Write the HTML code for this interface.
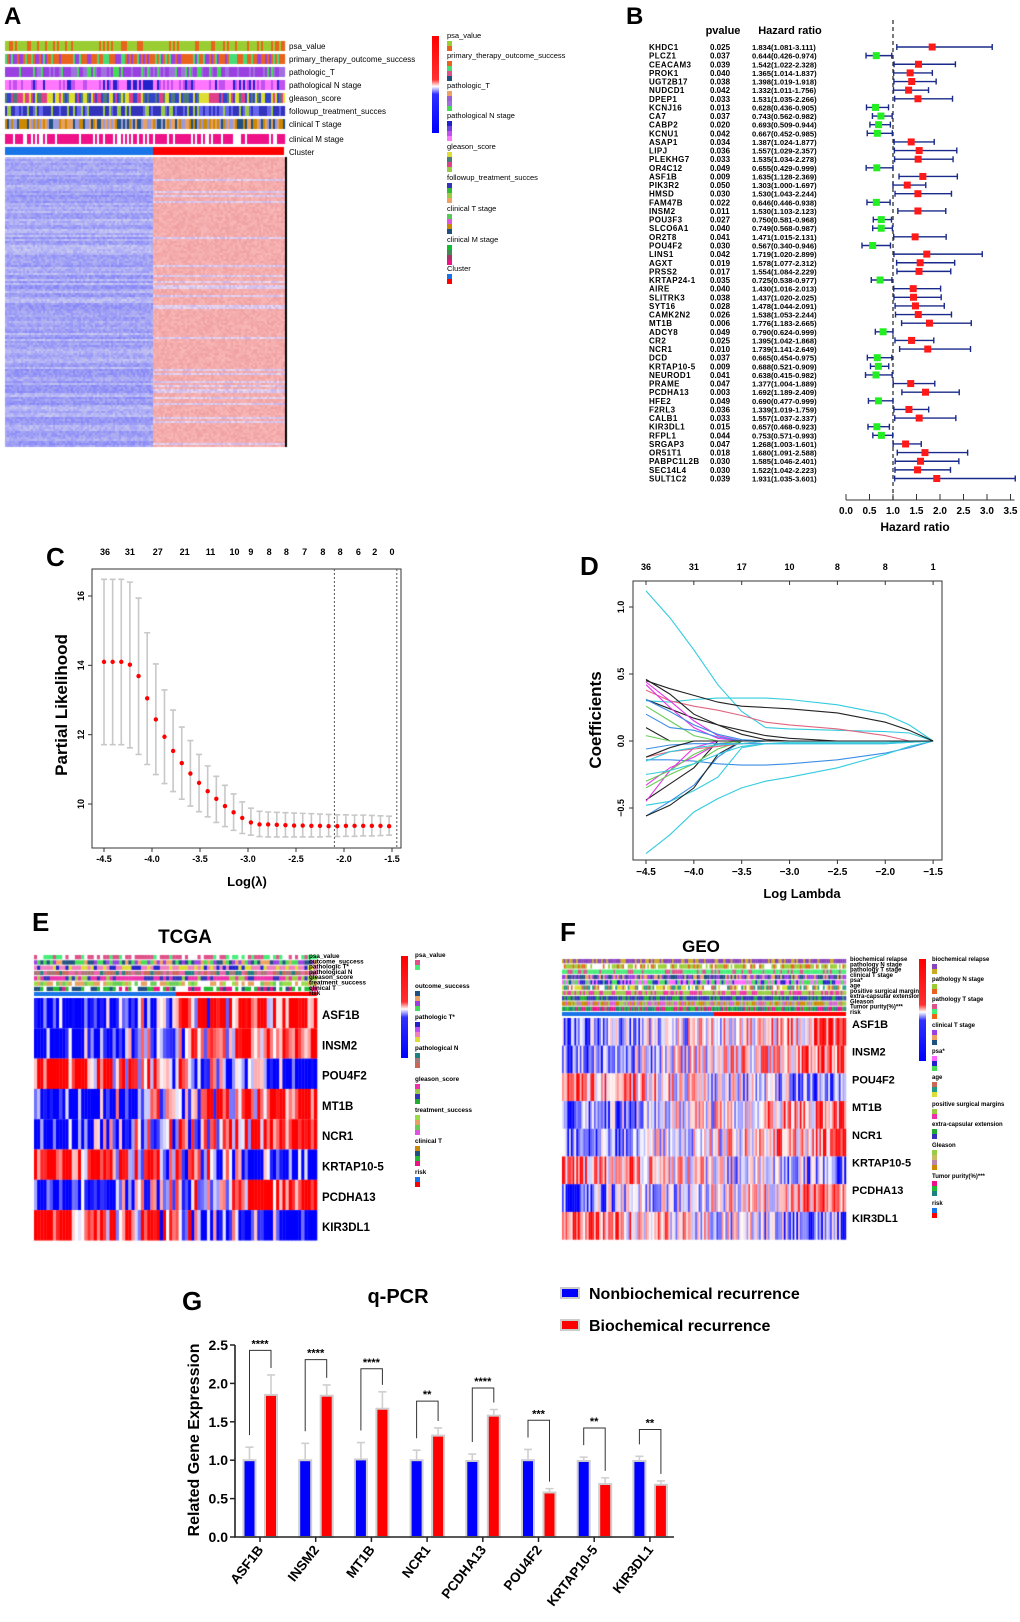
<!DOCTYPE html>
<html><head><meta charset="utf-8">
<style>
body{margin:0;width:1020px;height:1622px;position:relative;overflow:hidden;background:#fff;font-family:"Liberation Sans",Arial,sans-serif}
svg{position:absolute;left:0;top:0}
canvas{position:absolute}
text{font-family:"Liberation Sans",Arial,sans-serif}
.b{font-weight:bold}
</style></head>
<body>
<canvas id="cvA" width="290" height="410" style="left:0;top:40px"></canvas>
<canvas id="cvE" width="290" height="290" style="left:30px;top:952px"></canvas>
<canvas id="cvF" width="290" height="290" style="left:560px;top:955px"></canvas>
<svg id="s" width="1020" height="1622" xmlns="http://www.w3.org/2000/svg">
  <text x="4" y="24" class="b" font-size="24">A</text>
  <text x="626" y="24" class="b" font-size="24">B</text>
  <text x="46" y="566" class="b" font-size="26">C</text>
  <text x="580" y="575" class="b" font-size="26">D</text>
  <text x="32" y="931" class="b" font-size="26">E</text>
  <text x="560" y="941" class="b" font-size="26">F</text>
  <text x="182" y="1310" class="b" font-size="26">G</text>

  <text x="723" y="34" class="b" font-size="11" text-anchor="middle">pvalue</text>
  <text x="790" y="34" class="b" font-size="11" text-anchor="middle">Hazard ratio</text>
  <text x="915" y="531" class="b" font-size="12" text-anchor="middle">Hazard ratio</text>

  <text transform="translate(67,705) rotate(-90)" class="b" font-size="17" text-anchor="middle">Partial Likelihood</text>
  <text x="247" y="886" class="b" font-size="13" text-anchor="middle">Log(λ)</text>
  <text transform="translate(601,720) rotate(-90)" class="b" font-size="17" text-anchor="middle">Coefficients</text>
  <text x="802" y="898" class="b" font-size="13" text-anchor="middle">Log Lambda</text>

  <text x="185" y="943" class="b" font-size="19" text-anchor="middle">TCGA</text>
  <text x="701" y="952" class="b" font-size="17" text-anchor="middle">GEO</text>

  <text x="398" y="1303" class="b" font-size="20" text-anchor="middle">q-PCR</text>
  <rect x="561" y="1288" width="18" height="10" fill="#0000ff" stroke="#ccc" stroke-width="2"/>
  <text x="589" y="1299" class="b" font-size="16">Nonbiochemical recurrence</text>
  <rect x="561" y="1320" width="18" height="10" fill="#ff0000" stroke="#ccc" stroke-width="2"/>
  <text x="589" y="1331" class="b" font-size="16">Biochemical recurrence</text>
  <text transform="translate(199,1440) rotate(-90)" class="b" font-size="16" text-anchor="middle">Related Gene Expression</text>
</svg>
<script>
// ---------- Forest plot data (panel B) ----------
const genes=["KHDC1","PLCZ1","CEACAM3","PROK1","UGT2B17","NUDCD1","DPEP1","KCNJ16","CA7","CABP2","KCNU1","ASAP1","LIPJ","PLEKHG7","OR4C12","ASF1B","PIK3R2","HMSD","FAM47B","INSM2","POU3F3","SLCO6A1","OR2T8","POU4F2","LINS1","AGXT","PRSS2","KRTAP24-1","AIRE","SLITRK3","SYT16","CAMK2N2","MT1B","ADCY8","CR2","NCR1","DCD","KRTAP10-5","NEUROD1","PRAME","PCDHA13","HFE2","F2RL3","CALB1","KIR3DL1","RFPL1","SRGAP3","OR51T1","PABPC1L2B","SEC14L4","SULT1C2"];
const pvals=[0.025,0.037,0.039,0.040,0.038,0.042,0.033,0.013,0.037,0.020,0.042,0.034,0.036,0.033,0.049,0.009,0.050,0.030,0.022,0.011,0.027,0.040,0.041,0.030,0.042,0.019,0.017,0.035,0.040,0.038,0.028,0.026,0.006,0.049,0.025,0.010,0.037,0.009,0.041,0.047,0.003,0.049,0.036,0.033,0.015,0.044,0.047,0.018,0.030,0.030,0.039];
const hr=[1.834,0.644,1.542,1.365,1.398,1.332,1.531,0.628,0.743,0.693,0.667,1.387,1.557,1.535,0.655,1.635,1.303,1.530,0.646,1.530,0.750,0.749,1.471,0.567,1.719,1.578,1.554,0.725,1.430,1.437,1.478,1.538,1.776,0.790,1.395,1.739,0.665,0.688,0.638,1.377,1.692,0.690,1.339,1.557,0.657,0.753,1.268,1.680,1.585,1.522,1.931];
const hrLo=[1.081,0.426,1.022,1.014,1.019,1.011,1.035,0.436,0.562,0.509,0.452,1.024,1.029,1.034,0.429,1.128,1.000,1.043,0.446,1.103,0.581,0.568,1.015,0.340,1.020,1.077,1.084,0.538,1.016,1.020,1.044,1.053,1.183,0.624,1.042,1.141,0.454,0.521,0.415,1.004,1.189,0.477,1.019,1.037,0.468,0.571,1.003,1.091,1.046,1.042,1.035];
const hrHi=[3.111,0.974,2.328,1.837,1.918,1.756,2.266,0.905,0.982,0.944,0.985,1.877,2.357,2.278,0.999,2.369,1.697,2.244,0.938,2.123,0.968,0.987,2.131,0.946,2.899,2.312,2.229,0.977,2.013,2.025,2.091,2.244,2.665,0.999,1.868,2.649,0.975,0.909,0.982,1.889,2.409,0.999,1.759,2.337,0.923,0.993,1.601,2.588,2.401,2.223,3.601];
const hrTicks=["0.0","0.5","1.0","1.5","2.0","2.5","3.0","3.5"];
// ---------- Panel C data ----------
const cLam=[-4.5,-4.41,-4.32,-4.23,-4.14,-4.05,-3.96,-3.87,-3.78,-3.69,-3.6,-3.51,-3.42,-3.33,-3.24,-3.15,-3.06,-2.97,-2.88,-2.79,-2.70,-2.61,-2.52,-2.43,-2.34,-2.25,-2.16,-2.07,-1.98,-1.89,-1.80,-1.71,-1.62,-1.53];
const cMean=[14.1,14.1,14.1,14.02,13.69,13.05,12.44,11.94,11.53,11.18,10.88,10.61,10.37,10.15,9.94,9.76,9.60,9.47,9.41,9.41,9.40,9.39,9.38,9.38,9.37,9.37,9.36,9.36,9.37,9.37,9.37,9.37,9.37,9.36];
const cUp=[16.48,16.48,16.48,16.4,15.94,14.94,14.04,13.29,12.71,12.22,11.83,11.43,11.1,10.8,10.54,10.29,10.06,9.88,9.79,9.77,9.76,9.75,9.74,9.73,9.72,9.71,9.7,9.69,9.69,9.68,9.68,9.67,9.66,9.65];
const cLo=[11.71,11.71,11.71,11.62,11.43,11.14,10.85,10.59,10.36,10.14,9.94,9.78,9.63,9.47,9.35,9.24,9.15,9.1,9.06,9.05,9.05,9.05,9.05,9.05,9.05,9.05,9.06,9.06,9.07,9.07,9.08,9.08,9.09,9.1];
const cTopLam=[-4.49,-4.23,-3.94,-3.66,-3.39,-3.14,-2.97,-2.78,-2.6,-2.41,-2.22,-2.04,-1.85,-1.68,-1.5];
const cTopLabels=["36","31","27","21","11","10","9","8","8","7","8","8","6","2","0"];
const cXTicks=[-4.5,-4.0,-3.5,-3.0,-2.5,-2.0,-1.5];
const cYTicks=[10,12,14,16];
const cVlines=[-2.1,-1.45];
// ---------- Panel D data ----------
const dLam=[-4.5,-4.25,-4.0,-3.75,-3.5,-3.25,-3.0,-2.5,-2.0,-1.75,-1.5];
const dColors=["#33ccdd","#33ccdd","#222222","#e06680","#222222","#e633e6","#e633e6","#66cc55","#3a8ee6","#222222","#66cc55","#3a8ee6","#222222","#3a8ee6","#33ccdd","#33ccdd","#3a8ee6","#222222","#222222","#e633e6","#e633e6","#66cc55","#66cc55","#e06680","#3a8ee6","#33ccdd","#33ccdd","#222222"];
const dCoef=[
[1.12,0.92,0.68,0.42,0.22,0.1,0.09,0.08,0.07,0.06,0],
[0.3,0.29,0.31,0.32,0.32,0.32,0.31,0.27,0.2,0.12,0],
[0.45,0.39,0.34,0.29,0.26,0.25,0.24,0.21,0.14,0.08,0],
[0.38,0.3,0.26,0.23,0.19,0.14,0.12,0.09,0.04,0.0,0],
[0.31,0.24,0.17,0.12,0.08,0.04,0.02,0,0,0,0],
[0.44,0.3,0.15,0.04,0,0,0,0,0,0,0],
[0.42,0.25,0.1,0.02,0,0,0,0,0,0,0],
[0.26,0.15,0.04,0,0,0,0,0,0,0,0],
[0.2,0.1,0.08,0.03,0,0,0,0,0,0,0],
[0.1,0,0,0,0,0,0,0,0,0,0],
[0.04,0,0,0,0,0,0,0,0,0,0],
[0.31,0.22,0.12,0.05,0.01,0,0,0,0,0,0],
[0.46,0.35,0.2,0.12,0.05,0.01,0,0,0,0,0],
[-0.14,-0.14,-0.15,-0.17,-0.18,-0.18,-0.17,-0.14,-0.09,-0.05,0],
[-0.84,-0.7,-0.53,-0.43,-0.35,-0.3,-0.27,-0.2,-0.1,-0.04,0],
[-0.48,-0.45,-0.37,-0.27,-0.05,-0.02,-0.01,-0.01,-0.01,-0.005,0],
[-0.56,-0.45,-0.33,-0.12,0,0,0,0,0,0,0],
[-0.56,-0.48,-0.35,-0.1,0,0,0,0,0,0,0],
[-0.44,-0.32,-0.2,0,0,0,0,0,0,0,0],
[-0.33,-0.2,-0.12,-0.02,0,0,0,0,0,0,0],
[-0.45,-0.22,-0.05,0,0,0,0,0,0,0,0],
[-0.35,-0.25,-0.17,-0.06,0,0,0,0,0,0,0],
[-0.3,-0.22,-0.1,-0.02,0,0,0,0,0,0,0],
[-0.12,-0.08,-0.06,-0.04,-0.02,0,0,0,0,0,0],
[-0.06,-0.03,-0.02,-0.02,-0.02,-0.02,-0.02,-0.02,-0.02,-0.01,0],
[-0.25,-0.22,-0.17,-0.1,-0.04,-0.02,-0.02,-0.02,-0.02,-0.01,0],
[-0.15,-0.08,-0.05,-0.03,-0.02,0,0,0,0,0,0],
[-0.12,-0.05,0,0,0,0,0,0,0,0,0]];
const dTopLam=[-4.5,-4.0,-3.5,-3.0,-2.5,-2.0,-1.5];
const dTopLabels=["36","31","17","10","8","8","1"];
const dXTicks=[-4.5,-4.0,-3.5,-3.0,-2.5,-2.0,-1.5];
const dYTicks=[-0.5,0.0,0.5,1.0];
// ---------- Panel G data ----------
const gGenes=["ASF1B","INSM2","MT1B","NCR1","PCDHA13","POU4F2","KRTAP10-5","KIR3DL1"];
const gBlue=[1.0,1.0,1.01,1.0,0.99,1.0,0.99,0.99];
const gBlueErr=[1.17,1.22,1.23,1.13,1.08,1.14,1.04,1.05];
const gRed=[1.85,1.84,1.67,1.32,1.58,0.58,0.69,0.68];
const gRedErr=[2.11,1.98,1.89,1.42,1.66,0.63,0.77,0.73];
const gBracket=[2.43,2.31,2.19,1.77,1.94,1.52,1.42,1.40];
const gStars=["****","****","****","**","****","***","**","**"];
const gYTicks=[0,0.5,1.0,1.5,2.0,2.5];
// ---------- heatmap labels ----------
const heatGenes=["ASF1B","INSM2","POU4F2","MT1B","NCR1","KRTAP10-5","PCDHA13","KIR3DL1"];
const heatDir=[1,1,-1,1,1,-1,1,-1];

const NS="http://www.w3.org/2000/svg";
const s=document.getElementById('s');
function mk(tag,attrs){const e=document.createElementNS(NS,tag);for(const k in attrs)e.setAttribute(k,attrs[k]);s.appendChild(e);return e;}
function tx(x,y,str,size,extra){const e=mk('text',Object.assign({x:x,y:y,'font-size':size},extra||{}));e.textContent=str;return e;}
function tex(i,j,k){let v=Math.sin(i*12.9898+j*78.233+k*37.719)*43758.5453;return v-Math.floor(v);}

// ---- B forest ----
const hx=v=>846+v*47, ry=i=>47+i*8.63;
const dl=mk('line',{x1:hx(1),x2:hx(1),y1:20,y2:500,stroke:'#333','stroke-dasharray':'4,3','stroke-width':1.3});


genes.forEach((g,i)=>{
  const y=ry(i);
  const t1=tx(649,y+3,g,8,{class:'b','letter-spacing':'0.4'});
  
  
  const t2=tx(710,y+3,pvals[i].toFixed(3),8,{class:'b'});
  
  
  const t3=tx(752,y+3,hr[i].toFixed(3)+'('+hrLo[i].toFixed(3)+'-'+hrHi[i].toFixed(3)+')',7.6,{class:'b'});
  
  
  const w=mk('path',{d:`M${hx(hrLo[i])},${y}H${hx(hrHi[i])}M${hx(hrLo[i])},${y-3}v6M${hx(hrHi[i])},${y-3}v6`,stroke:'#1a2a8a','stroke-width':1.4,fill:'none'});
  
  
  const sq=mk('rect',{x:hx(hr[i])-3.5,y:y-3.5,width:7,height:7,fill:hr[i]>1?'#ff1a1a':'#22ee22'});
  
  
});
const fax=mk('line',{x1:hx(0),x2:hx(3.5)+4,y1:500,y2:500,stroke:'#333','stroke-width':1});


hrTicks.forEach(t=>{const v=parseFloat(t);
  const l=mk('line',{x1:hx(v),x2:hx(v),y1:494,y2:500,stroke:'#333'});
  
  
  const e=tx(hx(v),514,t,10,{class:'b','text-anchor':'middle'});
  
  
});

// ---- C ----
const cx=v=>104+(v+4.5)*96, cy=v=>596-(v-16)*34.67;
const cb=mk('rect',{x:92,y:569,width:309,height:279,fill:'none',stroke:'#333','stroke-width':1});


cLam.forEach((l,i)=>{
  const x=cx(l);
  const e=mk('path',{d:`M${x},${cy(cUp[i])}V${cy(cLo[i])}M${x-3},${cy(cUp[i])}h6M${x-3},${cy(cLo[i])}h6`,stroke:'#c8c8c8','stroke-width':1.6,fill:'none'});
  
  
});
cLam.forEach((l,i)=>{
  const p=mk('circle',{cx:cx(l),cy:cy(cMean[i]),r:2.2,fill:'#ff0000'});
  
  
});
cVlines.forEach(v=>{const e=mk('line',{x1:cx(v),x2:cx(v),y1:569,y2:848,stroke:'#555','stroke-dasharray':'2,2'});
  
  });
cXTicks.forEach(v=>{const l=mk('line',{x1:cx(v),x2:cx(v),y1:848,y2:852,stroke:'#333'});
  
  
  const e=tx(cx(v),862,(v<0?'-':'')+Math.abs(v).toFixed(1),9,{class:'b','text-anchor':'middle'});
  
  });
cYTicks.forEach(v=>{const l=mk('line',{x1:88,x2:92,y1:cy(v),y2:cy(v),stroke:'#333'});
  
  
  const e=tx(0,0,String(v),9,{class:'b','text-anchor':'middle',transform:`translate(84,${cy(v)}) rotate(-90)`});
  
  });
cTopLam.forEach((v,i)=>{const e=tx(cx(v),555,cTopLabels[i],9,{class:'b','text-anchor':'middle'});
  
  });

// ---- D ----
const dx=v=>646+(v+4.5)*95.7, dy=v=>741-v*134;
const db=mk('rect',{x:633,y:581,width:309,height:279,fill:'none',stroke:'#333','stroke-width':1});


dCoef.forEach((row,k)=>{
  const d=row.map((v,i)=>(i?'L':'M')+dx(dLam[i]).toFixed(1)+','+dy(v).toFixed(1)).join('');
  const p=mk('path',{d:d,stroke:dColors[k],'stroke-width':1.1,fill:'none'});
  
  
});
dXTicks.forEach(v=>{const l=mk('line',{x1:dx(v),x2:dx(v),y1:860,y2:864,stroke:'#333'});
  
  
  const e=tx(dx(v),875,(v<0?'\u2212':'')+Math.abs(v).toFixed(1),10,{class:'b','text-anchor':'middle'});
  
  });
dYTicks.forEach(v=>{const l=mk('line',{x1:629,x2:633,y1:dy(v),y2:dy(v),stroke:'#333'});
  
  
  const e=tx(0,0,(v<0?'\u2212':'')+Math.abs(v).toFixed(1),9,{class:'b','text-anchor':'middle',transform:`translate(624,${dy(v)}) rotate(-90)`});
  
  });
dTopLam.forEach((v,i)=>{const l=mk('line',{x1:dx(v),x2:dx(v),y1:581,y2:585,stroke:'#333'});
  
  
  const e=tx(dx(v),570,dTopLabels[i],9,{class:'b','text-anchor':'middle'});
  
  });

// ---- G ----
const gx=i=>260+i*55.7, gy=v=>1537-v*76.8;
gGenes.forEach((g,i)=>{
  const c=gx(i);
  [[c-10.5,gBlue[i],gBlueErr[i],'#0000ff'],[c+11,gRed[i],gRedErr[i],'#ff0000']].forEach(([bx,v,er,col])=>{
    const e=mk('path',{d:`M${bx},${gy(v)}V${gy(er)}M${bx-4},${gy(er)}h8`,stroke:'#cfcfcf','stroke-width':1.6,fill:'none'});
    
    
    const r=mk('rect',{x:bx-6,y:gy(v),width:12,height:gy(0)-gy(v),fill:col,stroke:'#cfcfcf','stroke-width':2});
    
    
  });
  const top=gy(gBracket[i]);
  const br=mk('path',{d:`M${c-10.5},${gy(gBlueErr[i])-12}V${top}H${c+11}V${gy(gRedErr[i])-7}`,stroke:'#333','stroke-width':1,fill:'none'});
  
  
  const st=tx(c,top-3,gStars[i],11,{class:'b','text-anchor':'middle'});
  
  
  const tk=mk('line',{x1:c,x2:c,y1:1537,y2:1542,stroke:'#222','stroke-width':1.5});
  
  
  const lb=tx(0,0,g,13.5,{class:'b','text-anchor':'end',transform:`translate(${c+4},${1550}) rotate(-52)`});
  
  
});
const gax=mk('path',{d:`M235,1345V1537H674`,stroke:'#222','stroke-width':1.6,fill:'none'});


gYTicks.forEach(v=>{const l=mk('line',{x1:230,x2:235,y1:gy(v),y2:gy(v),stroke:'#222','stroke-width':1.5});
  
  
  const e=tx(228,gy(v)+5,v.toFixed(1),14,{class:'b','text-anchor':'end'});
  
  });

// ---- heatmap row labels ----
heatGenes.forEach((g,i)=>{
  const a=tx(322,1019+i*30.3,g,11.5,{class:'b'});
  
  
  const b=tx(852,1028+i*27.7,g,11,{class:'b'});
  
  
});

// ---- annotation labels / legends ----
const aLabels=["psa_value","primary_therapy_outcome_success","pathologic_T","pathological N stage","gleason_score","followup_treatment_succes","clinical T stage","clinical M stage","Cluster"];
const aRowY=[41,54,67,80,93,106,119,134,147];
aLabels.forEach((l,i)=>{const e=tx(289,aRowY[i]+8,l,8);
  
  });
const aLegY=[38,58,88,118,149,180,211,242,271];
aLabels.forEach((l,i)=>{const e=tx(447,aLegY[i],l,7.5);
  
  });
const eLabels=["psa_value","outcome_success","pathologic T*","pathological N","gleason_score","treatment_success","clinical T","risk"];
eLabels.forEach((l,i)=>{const e=tx(309,958+i*5.3,l,6.3,{class:'b'});
  
  
  const f=tx(415,957+i*31,l,6.3,{class:'b'});
  
  });
const fLabels=["biochemical relapse","pathology N stage","pathology T stage","clinical T stage","psa*","age","positive surgical margins","extra-capsular extension","Gleason","Tumor purity(%)***","risk"];
const fLegY=[961,981,1001,1027,1053,1079,1106,1126,1147,1178,1205];
fLabels.forEach((l,i)=>{const e=tx(850,961+i*5.3,l,6,{class:'b'});
  
  
  const f=tx(932,fLegY[i],l,6,{class:'b'});
  
  });
// color bars
[[432,36,97,'a'],[401,956,102,'tcga'],[919,959,102,'geo']].forEach(([x,y,h,n])=>{
  const r=mk('rect',{x:x,y:y,width:7,height:h,fill:`url(#grad)`});
  
  
});
const defs=mk('defs',{});
defs.innerHTML='<linearGradient id="grad" x1="0" y1="0" x2="0" y2="1"><stop offset="0" stop-color="#ff0000"/><stop offset="0.45" stop-color="#ff3030"/><stop offset="0.52" stop-color="#ffffff"/><stop offset="0.6" stop-color="#3030ff"/><stop offset="1" stop-color="#0000ff"/></linearGradient>';
// legend swatches
function swatches(x,ys,pal,name){ys.forEach((y,i)=>{pal[i%pal.length].forEach((c,j)=>{
  const r=mk('rect',{x:x,y:y+3+j*5,width:5,height:5,fill:c});
  
  });});}
swatches(447,aLegY,[["#9acd32","#e8641e"],["#e8641e","#44dd77","#e0508a","#205080"],["#f0a060","#9b60d0","#a070e0","#44dd55"],["#2222cc","#7040e0","#c050f0","#ff77ff"],["#dddd33","#4a7a7a","#e0408a","#99cc44"],["#3333bb","#33bb33","#99cc44","#f0a060"],["#55cc55","#e055e0","#cc8800","#205080"],["#11bb33","#448855","#aa3366","#ee1188"],["#1874e8","#ff0000"]],'a-legend-swatch');
const eLegY=[957,988,1019,1050,1081,1112,1143,1174];
swatches(415,eLegY,[["#e0508a","#44ee77"],["#205080","#f0a060","#9b40e0","#44dd55"],["#2222cc","#c050f0","#f080c0","#dddd33"],["#208080","#aa7777","#cc6655"],["#ee33aa","#99cc44","#3333bb","#22aa33"],["#99dd44","#e8a060","#66cc55","#dd55dd"],["#cc8800","#205080","#22bb33","#ee1188"],["#1874e8","#ff0000"]],'tcga-legend-swatch');
swatches(932,fLegY,[["#8844bb","#ccaa22"],["#99cc33","#e8641e"],["#e0508a","#44ee77","#ee6611"],["#9b40e0","#f0a060","#205080"],["#ff66ff","#2222cc","#44dd55"],["#cc6655","#229988","#dddd33"],["#99cc44","#ee33aa"],["#22aa33","#3333bb"],["#99cc44","#ccbb66","#bb88aa","#cc8800"],["#ee1188","#22bb33","#208080"],["#1874e8","#ff0000"]],'geo-legend-swatch');

// ---- canvases (heatmap textures) ----
function cmap(v){v=Math.max(-1,Math.min(1,v));return v<0?[255*(1+v),255*(1+v),255]:[255,255*(1-v),255*(1-v)];}
(function(){
  const g=document.getElementById('cvA').getContext('2d');
  const pals=[["#9acd32","#9acd32","#9acd32","#e8641e"],["#e8641e","#e8641e","#9b40e0","#44dd77"],["#9b40e0","#9b40e0","#44dd55","#a070e0"],["#ff77ff","#ff77ff","#2222cc","#c050f0"],["#e0408a","#4a7a7a","#dddd33","#3344cc"],["#3333bb","#3333bb","#6666ee","#99cc44"],["#cc8800","#205080","#e8a060","#9999dd"],["#ee1188","#ee1188","#ee1188","#ffffff"]];
  const rowY=[1,14,27,40,53,66,79,94];
  pals.forEach((p,r)=>{for(let c=0;c<140;c++){g.fillStyle=p[Math.floor(tex(c,r,1)*p.length)];g.fillRect(5+c*2.0,rowY[r],2.1,10);}});
  g.fillStyle='#1874e8';g.fillRect(5,107,148,8);g.fillStyle='#ff0000';g.fillRect(153,107,131,8);
  for(let y=117;y<407;y+=2){const rs=tex(y,3,2);for(let x=5;x<284;x+=2){const n=tex(x,y,5);
    let col;
    if(x<153){const k=0.55+0.35*rs+0.3*(n-0.5);col=`rgb(${Math.round(255-120*k)},${Math.round(255-120*k)},${Math.round(240+10*n)})`;}
    else{col=rs>0.88?`rgb(${200+40*n|0},${180+40*n|0},235)`:`rgb(${240+10*n|0},${160+25*n|0},${160+25*n|0})`;}
    g.fillStyle=col;g.fillRect(x,y,2,2);}}
  g.fillStyle='#000';g.fillRect(285,117,2,290);
})();
(function(){
  const g=document.getElementById('cvE').getContext('2d');
  const pals=[["#e0508a","#e0508a","#44ee77","#ffffff"],["#205080","#f0a060","#9b40e0","#44dd55"],["#f080c0","#f080c0","#dddd33","#2222cc"],["#cc6655","#208080","#ee66aa","#aa7777"],["#ee33aa","#3333bb","#99cc44","#ee33aa"],["#99dd44","#e8a060","#66cc55","#ffffff"],["#22bb33","#ee1188","#205080","#ffffff"]];
  const N=90,W=283/N;
  pals.forEach((p,r)=>{for(let c=0;c<N;c++){g.fillStyle=p[Math.floor(tex(c,r,7)*p.length)];g.fillRect(4+c*W,3+r*5.3,W+0.3,4.3);}});
  g.fillStyle='#1874e8';g.fillRect(4,40,142,4);g.fillStyle='#ff0000';g.fillRect(146,40,141,4);
  heatDir.forEach((d,r)=>{for(let c=0;c<N;c++){const v=d*(c/N*2-1)*1.5+(tex(c,r,9)-0.5)*2.6;const [R,G,B]=cmap(v);
    g.fillStyle=`rgb(${R|0},${G|0},${B|0})`;g.fillRect(4+c*W,46+r*30.3,W+0.3,30.4);}});
})();
(function(){
  const g=document.getElementById('cvF').getContext('2d');
  const pals=[["#8844bb","#8844bb","#ccaa22"],["#99cc33","#99cc33","#e8641e","#ffffff"],["#44ee77","#e0508a","#44ee77"],["#9b40e0","#f0a060","#205080"],["#44dd55","#2222cc","#ff66ff"],["#dddd33","#229988","#cc6655","#ffffff"],["#99cc44","#99cc44","#ee33aa"],["#3333bb","#22aa33","#3333bb"],["#bb88aa","#dd55dd","#cc8800","#99cc44"],["#ee1188","#22bb33","#208080"]];
  const N=160,W=284/N;
  pals.forEach((p,r)=>{for(let c=0;c<N;c++){g.fillStyle=p[Math.floor(tex(c,r,11)*p.length)];g.fillRect(2+c*W,4+r*5.3,W+0.2,4.3);}});
  g.fillStyle='#1874e8';g.fillRect(2,57,152,4);g.fillStyle='#ff0000';g.fillRect(154,57,132,4);
  heatDir.forEach((d,r)=>{for(let c=0;c<N;c++){const v=d*(c/N*2-1)*0.7+(tex(c,r,13)-0.5)*1.7;const [R,G,B]=cmap(v*0.85);
    g.fillStyle=`rgb(${R|0},${G|0},${B|0})`;g.fillRect(2+c*W,63+r*27.7,W+0.2,27.8);}});
})();
</script>
</body></html>
